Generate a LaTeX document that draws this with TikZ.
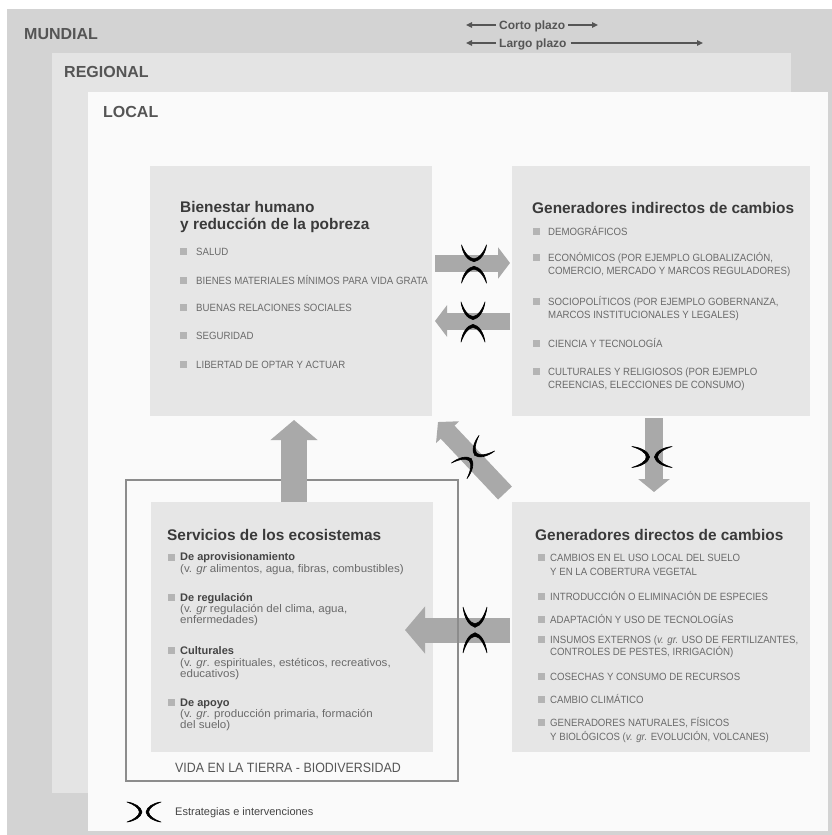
\documentclass[tikz,border=0pt]{standalone}
\usepackage{fontspec}
\setmainfont{Liberation Sans}
\newfontfamily\condf{Liberation Sans}[FakeStretch=0.92]
\newfontfamily\widef{Liberation Sans}[FakeStretch=1.05]
\usetikzlibrary{arrows.meta,calc}
\definecolor{mundc}{HTML}{D3D3D3}
\definecolor{regc}{HTML}{E4E4E4}
\definecolor{locc}{HTML}{FAFAFA}
\definecolor{boxc}{HTML}{E6E6E6}
\definecolor{arrc}{HTML}{A9A9A9}
\definecolor{lblc}{HTML}{555555}
\definecolor{hdrc}{HTML}{3A3A3A}
\definecolor{svbc}{HTML}{444444}
\definecolor{itc}{HTML}{6A6A6A}
\definecolor{bulc}{HTML}{B4B4B4}
\definecolor{frc}{HTML}{8C8C8C}
\begin{document}
\begin{tikzpicture}[x=1pt,y=-1pt,
  box/.style={fill=boxc, inner sep=0pt, outer sep=0pt, anchor=north west},
  scl/.style={font=\fontsize{16}{18}\selectfont\bfseries, text=lblc, anchor=base west, inner sep=0pt},
  hdr/.style={font=\fontsize{15.4}{17}\selectfont\bfseries, text=hdrc, anchor=base west, inner sep=0pt},
  itm/.style={font=\condf\fontsize{10.5}{12}\selectfont, text=itc, anchor=base west, inner sep=0pt},
  svl/.style={font=\widef\fontsize{11}{12}\selectfont, text=itc, anchor=base west, inner sep=0pt},
  svb/.style={font=\fontsize{11}{12}\selectfont\bfseries, text=svbc, anchor=base west, inner sep=0pt},
  plz/.style={font=\fontsize{12}{14}\selectfont\bfseries, text=lblc, anchor=base west, inner sep=0pt},
  vida/.style={font=\condf\fontsize{13.5}{15}\selectfont, text=lblc, anchor=base west, inner sep=0pt},
  leg/.style={font=\fontsize{11}{13}\selectfont, text=svbc, anchor=base west, inner sep=0pt},
  thinarr/.style={draw=lblc, line width=1.3pt, -{Triangle[length=6pt,width=5.5pt]}},
  blkS/.style={draw=arrc, line width=17pt, -{Triangle[length=12pt,width=31pt]}},
  blkL/.style={draw=arrc, line width=26pt, -{Triangle[length=20pt,width=46pt]}},
  strat/.pic={
    \filldraw[black, line width=0.6pt, line join=round] (-17,-10) .. controls (-9,-9) and (-3,-5) .. (-2,0) .. controls (-3,5) and (-9,9) .. (-17,10) .. controls (-10,7.5) and (-5,4) .. (-4.6,0) .. controls (-5,-4) and (-10,-7.5) .. (-17,-10) -- cycle;
    \filldraw[black, line width=0.6pt, line join=round] (17,-10) .. controls (9,-9) and (3,-5) .. (2,0) .. controls (3,5) and (9,9) .. (17,10) .. controls (10,7.5) and (5,4) .. (4.6,0) .. controls (5,-4) and (10,-7.5) .. (17,-10) -- cycle;
  }
]
\useasboundingbox (0,0) rectangle (832,835);
\fill[white] (0,0) rectangle (832,835);
% scale backgrounds
\fill[mundc] (7,9) rectangle (832,835);
\fill[regc] (52,53) rectangle (791,793);
\fill[locc] (88,92) rectangle (828,831);
\node[scl] (mund) at (24,39) {MUNDIAL};
\node[scl] (regi) at (64,77) {REGIONAL};
\node[scl] (loca) at (103,117) {LOCAL};
% time scale
\node[plz] (corto) at (499,29) {Corto plazo};
\node[plz] (largo) at (499,47) {Largo plazo};
\coordinate (cL) at (466,25);
\coordinate (cR) at (598,25);
\coordinate (lL) at (466,43);
\coordinate (lR) at (703,43);
\draw[thinarr] ($(corto.base west)+(-3,-4)$) -- (cL);
\draw[thinarr] ($(corto.base east)+(3,-4)$) -- (cR);
\draw[thinarr] ($(largo.base west)+(-3,-4)$) -- (lL);
\draw[thinarr] ($(largo.base east)+(4,-4)$) -- (lR);
% boxes
\node[box, minimum width=282pt, minimum height=250pt] (bien) at (150,166) {};
\node[box, minimum width=298pt, minimum height=250pt] (ind) at (512,166) {};
\node[box, minimum width=282pt, minimum height=250pt] (serv) at (151,502) {};
\node[box, minimum width=298pt, minimum height=250pt] (dir) at (512,502) {};
% headers
\node[hdr] (h1a) at (180,212) {Bienestar humano};
\node[hdr] (h1b) at (180,229) {y reducción de la pobreza};
\node[hdr] (h2) at (532,213) {Generadores indirectos de cambios};
\node[hdr] (h3) at (535,540) {Generadores directos de cambios};
\node[hdr] (h4) at (167,540) {Servicios de los ecosistemas};
% bullets
\foreach \x/\y in {180/251,180/280,180/307,180/335,180/364,
  533/231.5,533/257.5,533/301,533/343,533/371,
  538/557.5,538/596.5,538/619,538/639,538/676.5,538/699,538/722.5,
  168/557,168/597.5,168/650.5,168/702.5}
  \fill[bulc] (\x,\y-3.5) rectangle ++(7,7);
% Bienestar items
\foreach \y/\t [count=\i] in {255/{SALUD},284/{BIENES MATERIALES MÍNIMOS PARA VIDA GRATA},
  311/{BUENAS RELACIONES SOCIALES},339/{SEGURIDAD},368/{LIBERTAD DE OPTAR Y ACTUAR}}
  \node[itm] (bi\i) at (196,\y) {\t};
% Indirectos items
\foreach \y/\t [count=\i] in {235.5/{DEMOGRÁFICOS},
  261.5/{ECONÓMICOS (POR EJEMPLO GLOBALIZACIÓN,},
  274.5/{COMERCIO, MERCADO Y MARCOS REGULADORES)},
  305/{SOCIOPOLÍTICOS (POR EJEMPLO GOBERNANZA,},
  318/{MARCOS INSTITUCIONALES Y LEGALES)},
  347/{CIENCIA Y TECNOLOGÍA},
  375/{CULTURALES Y RELIGIOSOS (POR EJEMPLO},
  388/{CREENCIAS, ELECCIONES DE CONSUMO)}}
  \node[itm] (ii\i) at (548,\y) {\t};
% Directos items
\foreach \y/\t [count=\i] in {561.5/{CAMBIOS EN EL USO LOCAL DEL SUELO},
  575.5/{Y EN LA COBERTURA VEGETAL},
  600.5/{INTRODUCCIÓN O ELIMINACIÓN DE ESPECIES},
  623/{ADAPTACIÓN Y USO DE TECNOLOGÍAS},
  643/{INSUMOS EXTERNOS ({\itshape v. gr.} USO DE FERTILIZANTES,},
  655.5/{CONTROLES DE PESTES, IRRIGACIÓN)},
  680.5/{COSECHAS Y CONSUMO DE RECURSOS},
  703/{CAMBIO CLIMÁTICO},
  726.5/{GENERADORES NATURALES, FÍSICOS},
  740.5/{Y BIOLÓGICOS ({\itshape v. gr.} EVOLUCIÓN, VOLCANES)}}
  \node[itm] (di\i) at (550,\y) {\t};
% Servicios items
\node[svb] (s1) at (180,560.5) {De aprovisionamiento};
\node[svl] (s1a) at (180,572.5) {(v. {\itshape gr} alimentos, agua, fibras, combustibles)};
\node[svb] (s2) at (180,601) {De regulación};
\node[svl] (s2a) at (180,612) {(v. {\itshape gr} regulación del clima, agua,};
\node[svl] (s2b) at (180,623.5) {enfermedades)};
\node[svb] (s3) at (180,654) {Culturales};
\node[svl] (s3a) at (180,666) {(v. {\itshape gr}. espirituales, estéticos, recreativos,};
\node[svl] (s3b) at (180,677) {educativos)};
\node[svb] (s4) at (180,706) {De apoyo};
\node[svl] (s4a) at (180,717.5) {(v. {\itshape gr}. producción primaria, formación};
\node[svl] (s4b) at (180,728.5) {del suelo)};
\node[vida] (vidat) at (175,772) {VIDA EN LA TIERRA - BIODIVERSIDAD};
% arrows
\draw[blkS] ($(bien.east)+(3,-28)$) -- ($(ind.west)+(-2,-28)$);
\draw[blkS] ($(ind.west)+(-2,30)$) -- ($(bien.east)+(3,30)$);
\draw[blkS, line width=18pt, -{Triangle[length=13pt,width=31pt]}] ($(ind.south)+(-7,2)$) -- ($(dir.north)+(-7,-10)$);
\draw[blkS, line width=19pt, -{Triangle[length=14pt,width=31pt]}] ($(dir.north west)+(-7,-9)$) -- ($(bien.south east)+(6,6)$);
\draw[blkL, line width=25pt] ($(dir.west)+(-2,3)$) -- ($(serv.east)+(-28,3)$);
% frame
\draw[frc, line width=1.5pt] (126,480) rectangle (458,781);
\draw[blkL] ($(serv.north)+(2,0)$) -- ($(bien.south)+(3,4)$);
% strategy markers
\pic[rotate=90, xscale=1.12, yscale=1.25] at (474,264) {strat};
\pic[rotate=90, xscale=1.18, yscale=1.2] at (473,322) {strat};
\pic[xscale=1.18, yscale=1.05] at (652,457) {strat};
\pic[rotate=45, xscale=1.15, yscale=1.1] at (473,457) {strat};
\pic[rotate=90, xscale=1.35, yscale=1.2] at (475,630) {strat};
\pic at (144,812) {strat};
\node[leg] (legt) at (175,815) {Estrategias e intervenciones};
\end{tikzpicture}
\end{document}
